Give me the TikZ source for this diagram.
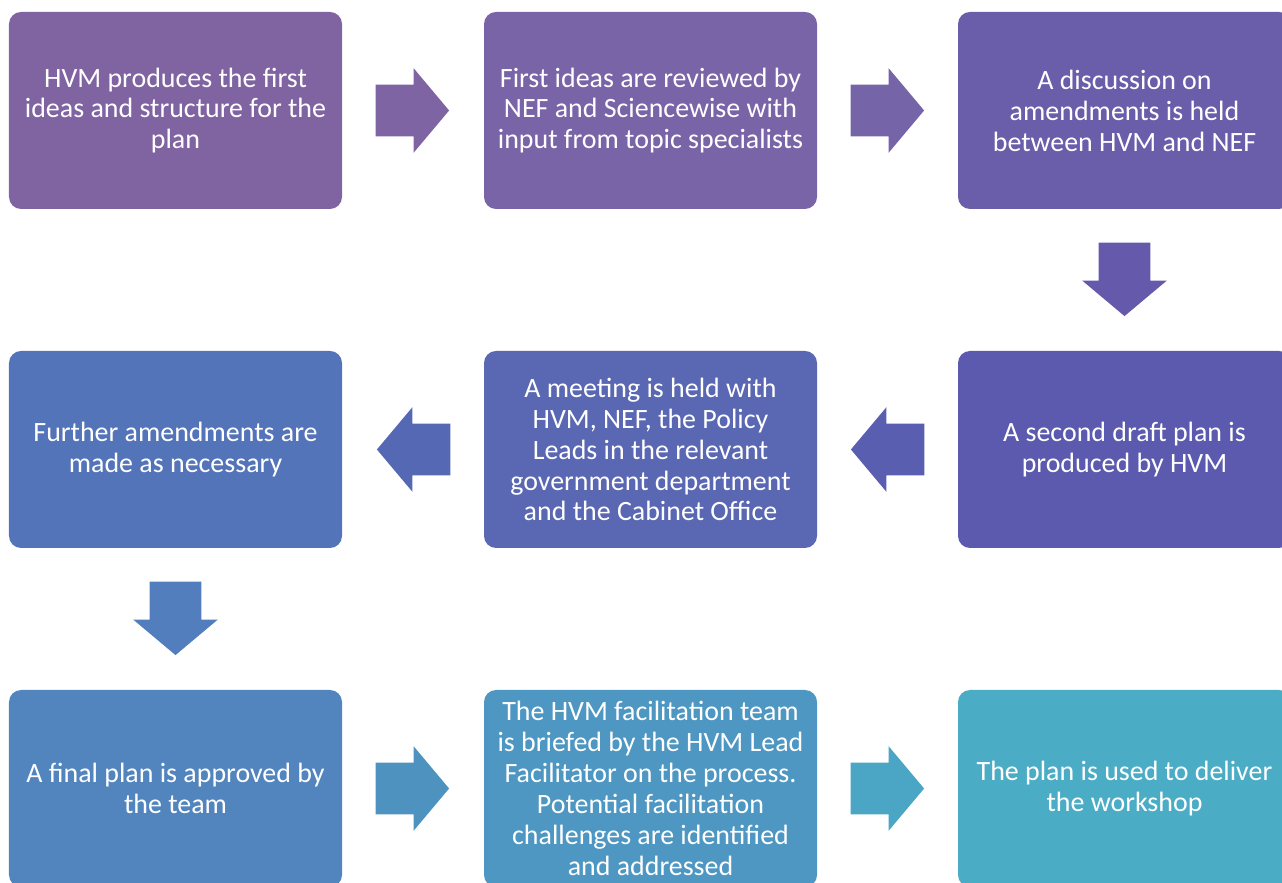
\documentclass[tikz,border=0pt]{standalone}
\usepackage{fontspec}
\setmainfont{Carlito}
\usetikzlibrary{shapes.arrows}

\definecolor{boxA}{HTML}{8064A2}
\definecolor{boxB}{HTML}{7A64A8}
\definecolor{boxC}{HTML}{6A5DAA}
\definecolor{boxD}{HTML}{5B5AAE}
\definecolor{boxE}{HTML}{5A67B2}
\definecolor{boxF}{HTML}{5474BA}
\definecolor{boxG}{HTML}{5285BE}
\definecolor{boxH}{HTML}{4E97C2}
\definecolor{boxI}{HTML}{4BACC6}
\definecolor{arrAB}{HTML}{7F64A4}
\definecolor{arrBC}{HTML}{7664A8}
\definecolor{arrCD}{HTML}{6459AA}
\definecolor{arrDE}{HTML}{5A5EB0}
\definecolor{arrEF}{HTML}{5568B4}
\definecolor{arrFG}{HTML}{527EBD}
\definecolor{arrGH}{HTML}{4E92C0}
\definecolor{arrHI}{HTML}{4BA5C5}

\begin{document}
\begin{tikzpicture}[
    stepbox/.style={rectangle, rounded corners=0.24cm, minimum width=6.66cm,
      minimum height=3.94cm, inner sep=0pt, align=center, text=white,
      font=\fontsize{15.9}{17.6}\selectfont},
    blockarrow/.style={single arrow, minimum height=1.42cm, inner sep=0.51cm,
      single arrow head extend=0.33cm, single arrow tip angle=100, anchor=tail}
  ]
    \useasboundingbox (0, 0) rectangle (25.64, 17.64);
    \clip (0, 0) rectangle (25.64, 17.64);

    % first row
    \node [stepbox, fill=boxA] (plan1) at (3.51, 15.43) {HVM produces the first\\ideas and structure for the\\plan};
    \node [stepbox, fill=boxB] (review) at (13.01, 15.43) {First ideas are reviewed by\\NEF and Sciencewise with\\input from topic specialists};
    \node [stepbox, fill=boxC] (discuss) at (22.49, 15.43) {A discussion on\\amendments is held\\between HVM and NEF};

    % second row
    \node [stepbox, fill=boxD] (draft2) at (22.49, 8.65) {A second draft plan is\\produced by HVM};
    \node [stepbox, fill=boxE] (meeting) at (13.01, 8.65) {A meeting is held with\\HVM, NEF, the Policy\\Leads in the relevant\\government department\\and the Cabinet Office};
    \node [stepbox, fill=boxF] (amend) at (3.51, 8.65) {Further amendments are\\made as necessary};

    % third row
    \node [stepbox, fill=boxG] (final) at (3.51, 1.87) {A final plan is approved by\\the team};
    \node [stepbox, fill=boxH] (brief) at (13.01, 1.87) {The HVM facilitation team\\is briefed by the HVM Lead\\Facilitator on the process.\\Potential facilitation\\challenges are identified\\and addressed};
    \node [stepbox, fill=boxI] (deliver) at (22.49, 1.87) {The plan is used to deliver\\the workshop};

    % arrows, tail just off the box they leave
    \node [blockarrow, fill=arrAB] (ar1) at ([xshift=0.66cm]plan1.east) {};
    \node [blockarrow, fill=arrBC] (ar2) at ([xshift=0.66cm]review.east) {};
    \node [blockarrow, fill=arrCD, shape border rotate=270] (ar3) at ([yshift=-0.66cm]discuss.south) {};
    \node [blockarrow, fill=arrDE, shape border rotate=180] (ar4) at ([xshift=-0.66cm]draft2.west) {};
    \node [blockarrow, fill=arrEF, shape border rotate=180] (ar5) at ([xshift=-0.66cm]meeting.west) {};
    \node [blockarrow, fill=arrFG, shape border rotate=270] (ar6) at ([yshift=-0.66cm]amend.south) {};
    \node [blockarrow, fill=arrGH] (ar7) at ([xshift=0.66cm]final.east) {};
    \node [blockarrow, fill=arrHI] (ar8) at ([xshift=0.66cm]brief.east) {};
\end{tikzpicture}
\end{document}
